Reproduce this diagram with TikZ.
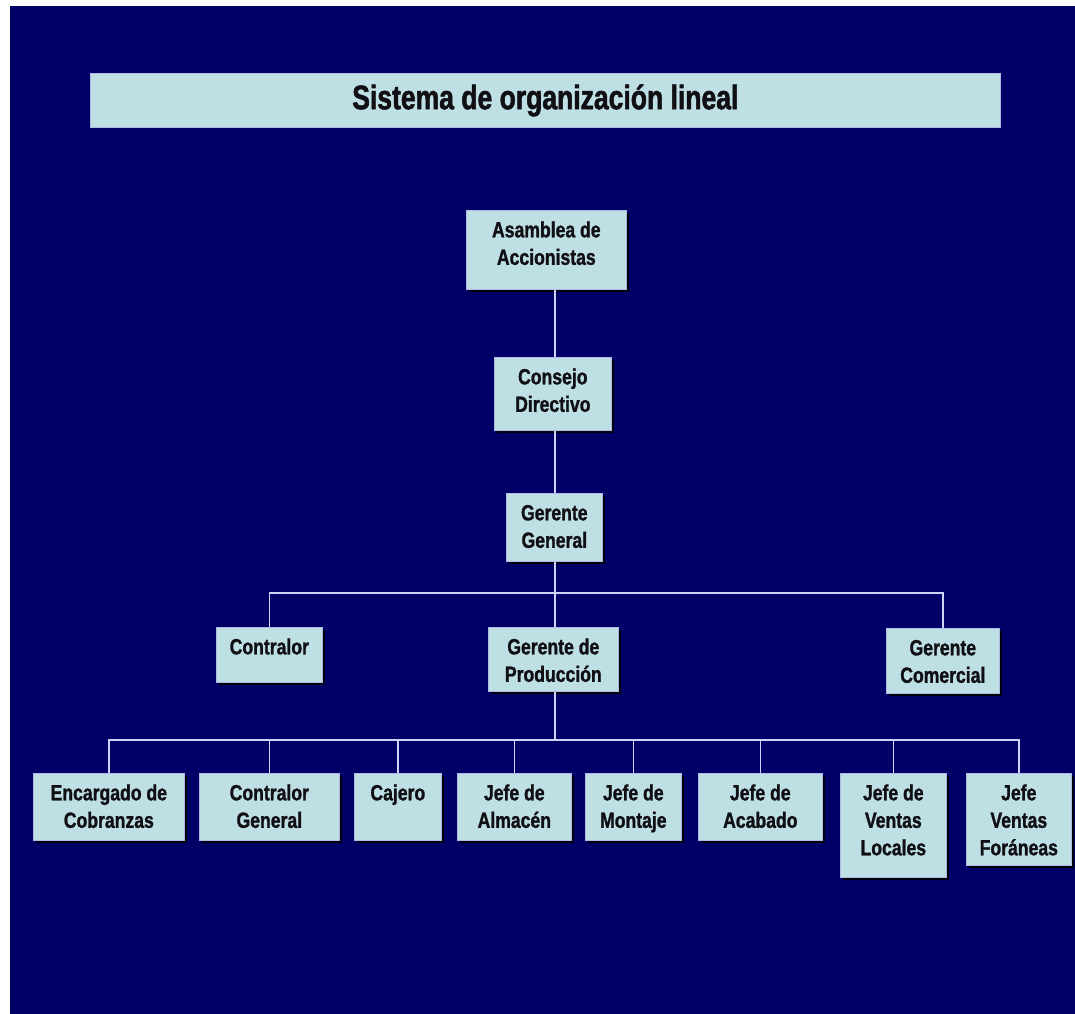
\documentclass[tikz,border=0pt]{standalone}
\usepackage{fontspec}
\setmainfont{Liberation Sans}[FakeStretch=0.8, BoldFeatures={FakeBold=1.2}]
\newfontfamily\titlefont{Liberation Sans}[FakeStretch=0.78, BoldFeatures={FakeBold=1.5}]
\usetikzlibrary{shadows}

% one drawing unit = one pixel of the chart
\newdimen\pxu \pxu=0.75pt
% top-aligned box contents: width, height (px), lines
\newcommand\boxtext[3]{\parbox[c][#2\pxu][t]{#1\pxu}{\centering\rule{0pt}{20.25pt}#3\par}}

\definecolor{navy}{RGB}{0,0,102}
\definecolor{boxc}{RGB}{190,223,228}
\definecolor{edgec}{RGB}{175,185,230}
\definecolor{linec}{RGB}{205,210,248}
\definecolor{ink}{RGB}{15,15,20}

\begin{document}
\begin{tikzpicture}[x=0.75pt,y=-0.75pt,
  orgbox/.style={draw=edgec, line width=0.5pt, fill=boxc, inner sep=0pt,
    anchor=north west, text=ink,
    font=\fontsize{16.5}{20.6}\selectfont\bfseries,
    drop shadow={shadow xshift=2.25pt, shadow yshift=-2.25pt, fill=black, opacity=0.9}},
  titlebox/.style={draw=edgec, line width=0.5pt, fill=boxc, inner sep=0pt,
    anchor=north west, text=ink, minimum width=682.5pt, minimum height=40.5pt,
    font=\titlefont\fontsize{25.5}{30}\selectfont\bfseries},
  conn/.style={draw=linec, line width=1.1pt}]

% page and background
\useasboundingbox (0,0) rectangle (1075,1014);
\fill[white] (0,0) rectangle (1075,1014);
\fill[navy] (10,6) rectangle (1075,1014);

% heading
\node[titlebox] (title) at (90,73) {Sistema de organización lineal};

% upper chain
\node[orgbox] (asamblea) at (466,210) {\boxtext{160}{79}{Asamblea de\\Accionistas}};
\node[orgbox] (consejo) at (494,357) {\boxtext{117}{73}{Consejo\\Directivo}};
\node[orgbox] (general) at (506,493) {\boxtext{96}{68}{Gerente\\General}};

% second level
\node[orgbox] (contralor) at (216,627) {\boxtext{106}{55}{Contralor}};
\node[orgbox] (produccion) at (488,627) {\boxtext{130}{64}{Gerente de\\Producción}};
\node[orgbox] (comercial) at (886,628) {\boxtext{113}{65}{Gerente\\Comercial}};

% third level
\node[orgbox] (cobranzas) at (33,773) {\boxtext{151}{67}{Encargado de\\Cobranzas}};
\node[orgbox] (cgeneral) at (199,773) {\boxtext{140}{67}{Contralor\\General}};
\node[orgbox] (cajero) at (354,773) {\boxtext{87}{67}{Cajero}};
\node[orgbox] (almacen) at (457,773) {\boxtext{114}{67}{Jefe de\\Almacén}};
\node[orgbox] (montaje) at (585,773) {\boxtext{96}{67}{Jefe de\\Montaje}};
\node[orgbox] (acabado) at (698,773) {\boxtext{124}{67}{Jefe de\\Acabado}};
\node[orgbox] (locales) at (840,773) {\boxtext{106}{104}{Jefe de\\Ventas\\Locales}};
\node[orgbox] (foraneas) at (966,773) {\boxtext{105}{92}{Jefe\\Ventas\\Foráneas}};

% connectors
\coordinate (trunk) at (555,0);
\coordinate (busA) at (555,593);
\coordinate (busB) at (555,740);
\draw[conn] (trunk |- asamblea.south) -- (trunk |- consejo.north);
\draw[conn] (trunk |- consejo.south) -- (trunk |- general.north);
\draw[conn] (trunk |- general.south) -- (trunk |- produccion.north);
\draw[conn] (contralor.north) |- (busA) -| (comercial.north);
\draw[conn] (trunk |- produccion.south) -- (busB);
\draw[conn] (cobranzas.north) |- (busB) -| (foraneas.north);
\foreach \n in {cgeneral,cajero,almacen,montaje,acabado,locales}
  \draw[conn] (\n.north) -- (\n.north |- busB);
\end{tikzpicture}
\end{document}
